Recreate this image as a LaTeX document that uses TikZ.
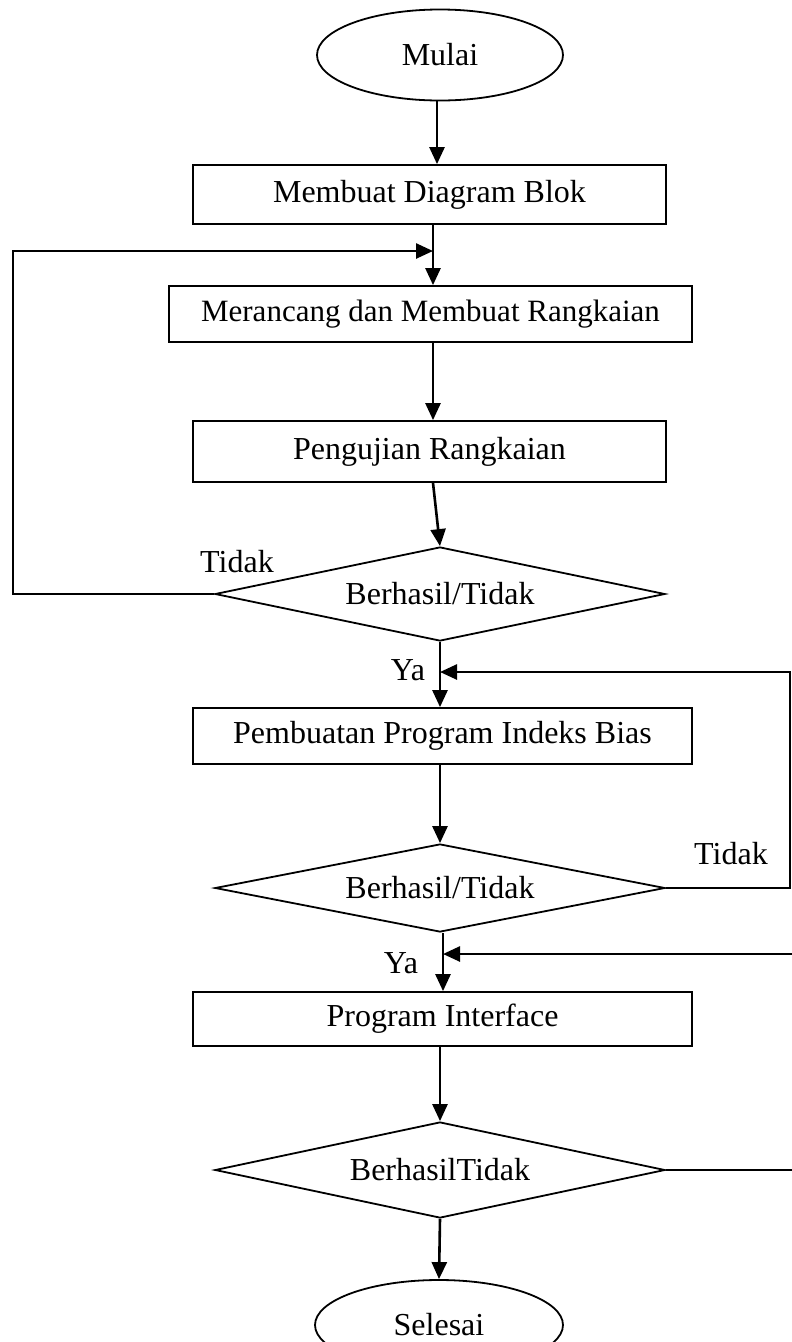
\documentclass[tikz,border=0pt]{standalone}
\usepackage{fontspec}
\setmainfont{Liberation Serif}
\usetikzlibrary{shapes.geometric,arrows.meta}
\begin{document}
\begin{tikzpicture}[x=1pt,y=-1pt,
  every node/.style={font=\fontsize{32}{38}\selectfont},
  procbox/.style={draw,line width=1.8pt,rectangle,inner sep=0pt},
  decide/.style={draw,line width=1.8pt,diamond,shape aspect=4.8,inner sep=0pt,minimum width=450pt,minimum height=94pt},
  term/.style={draw,line width=1.8pt,ellipse,inner sep=0pt,minimum width=246pt,minimum height=91pt},
  conn/.style={line width=2.6pt},
  arr/.style={conn,-{Triangle[length=17pt,width=15pt]}},
  lbl/.style={inner sep=0pt}]
\useasboundingbox (0,0) rectangle (792,1342);
% nodes
\node[term] (mulai) at (440,55) {Mulai};
\node[procbox,minimum width=473pt,minimum height=59pt] (box1) at (429.5,194.5) {Membuat Diagram Blok};
\node[procbox,minimum width=523pt,minimum height=56pt] (box2) at (430.5,314) {\fontsize{31}{36}\selectfont Merancang dan Membuat Rangkaian};
\node[procbox,minimum width=473pt,minimum height=61pt] (box3) at (429.5,451.5) {Pengujian Rangkaian};
\node[decide] (d1) at (440,594) {Berhasil/Tidak};
\node[procbox,minimum width=499pt,minimum height=56pt] (box4) at (442.5,736) {Pembuatan Program Indeks Bias};
\node[decide,minimum height=88pt] (d2) at (440,888) {Berhasil/Tidak};
\node[procbox,minimum width=499pt,minimum height=54pt] (box5) at (442.5,1019) {Program Interface};
\node[decide,minimum height=96pt] (d3) at (440,1170) {BerhasilTidak};
\node[term,minimum width=248pt,minimum height=90pt] (selesai) at (439,1325) {Selesai};
% labels
\node[lbl] (t1) at (237,562) {Tidak};
\node[lbl] (y1) at (408,670) {Ya};
\node[lbl] (t2) at (731,854) {Tidak};
\node[lbl] (y2) at (401,963) {Ya};
% junction coordinates
\coordinate (lt) at (13,251);
\coordinate (lj) at (433,251);
\coordinate (rt1) at (790,672);
\coordinate (rj1) at (440,672);
\coordinate (rt2) at (797,954);
\coordinate (rj2) at (443,954);
% main flow
\draw[arr] (mulai.south -| 437,0) -- (box1.north -| 437,0);
\draw[arr] (box1.south -| lj) -- (box2.north -| lj);
\draw[arr] (box2.south -| lj) -- (box3.north -| lj);
\draw[arr] (box3.south -| lj) -- (d1.north);
\draw[arr] (d1.south) -- (d1.south |- box4.north);
\draw[arr] (box4.south -| d2.north) -- (d2.north);
\draw[arr] (d2.south -| rj2) -- (box5.north -| rj2);
\draw[arr] (box5.south -| d3.north) -- (d3.north);
\draw[arr] (d3.south) -- (selesai.north);
% loops
\draw[arr] (d1.west) -| (lt) -- (lj);
\draw[arr] (d2.east) -| (rt1) -- (rj1);
\draw[arr] (d3.east) -| (rt2) -- (rj2);
\end{tikzpicture}
\end{document}
